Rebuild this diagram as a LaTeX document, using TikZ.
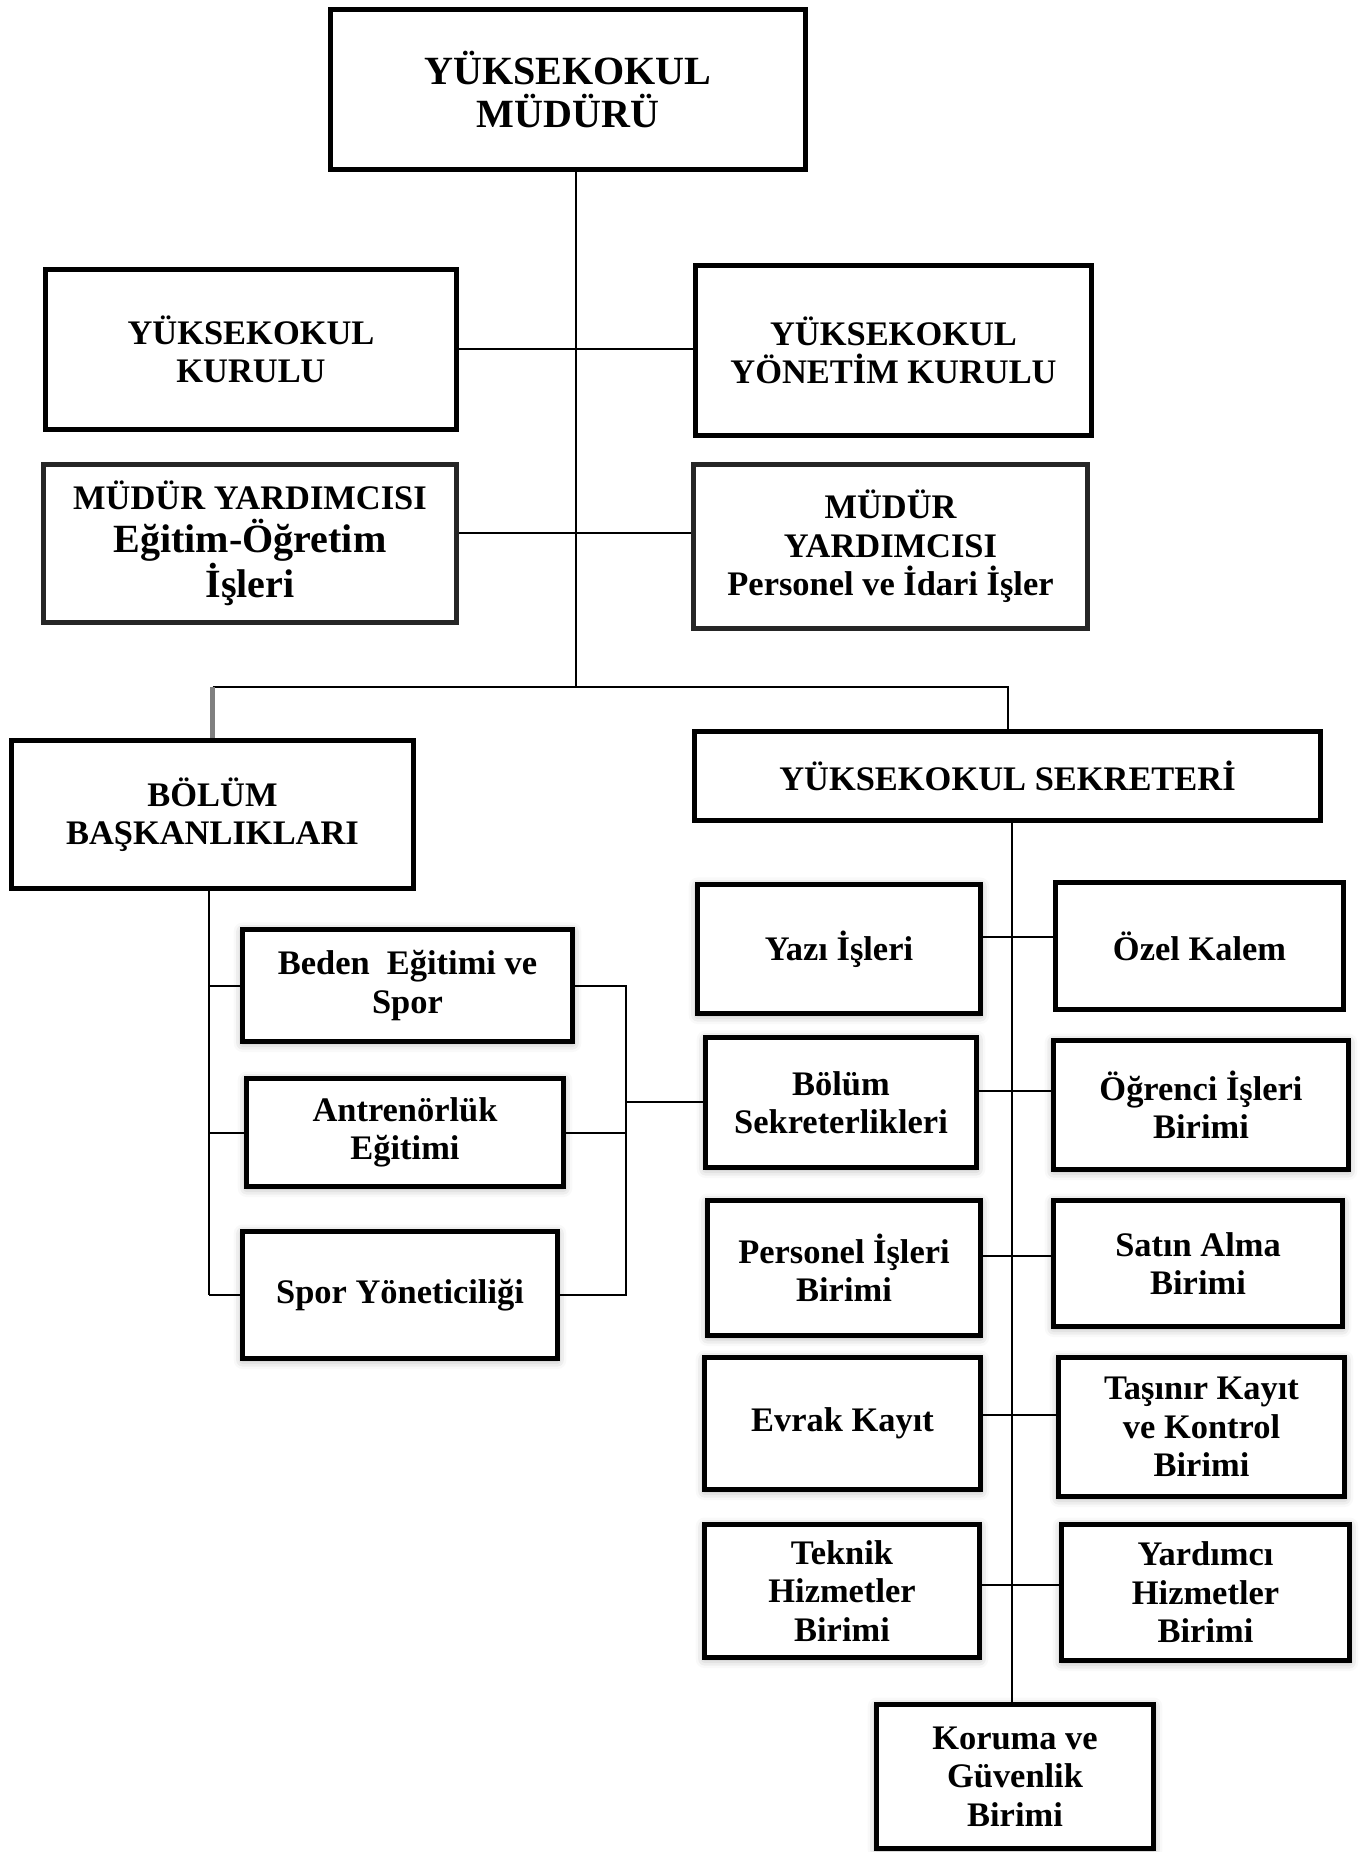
\documentclass[tikz,border=0pt]{standalone}
\usepackage{fontspec}
\setmainfont{Liberation Serif}
\usetikzlibrary{shadows.blur}

\begin{document}
\begin{tikzpicture}[x=0.02cm,y=-0.02cm,
	kutu/.style={draw,fill=white,line width=2.85pt,align=center,inner sep=2pt,
		font=\bfseries\fontsize{19.6}{21.9}\selectfont},
	buyuk/.style={font=\bfseries\fontsize{22.8}{24.5}\selectfont},
	boyut/.style 2 args={minimum width=#1*0.02cm,minimum height=#2*0.02cm},
	golge/.style={blur shadow={shadow xshift=0pt,shadow yshift=-1pt,
		shadow blur radius=5pt,shadow opacity=35}},
	hat/.style={line width=1.14pt}]
	\useasboundingbox (0,0) rectangle (1359,1852);
	% ust kademe
	\node[kutu,buyuk,boyut={475}{160}] (mudur) at (568,89.5) {YÜKSEKOKUL\\MÜDÜRÜ};
	\node[kutu,boyut={411}{160}] (kurul) at (251,349.5) {YÜKSEKOKUL\\KURULU};
	\node[kutu,boyut={396}{170}] (yonetim) at (893.5,350.5) {YÜKSEKOKUL\\YÖNETİM KURULU};
	\node[kutu,buyuk,draw=black!85,boyut={413}{158}] (myegitim) at (250,543.5)
		{{\fontsize{19.6}{24.5}\selectfont MÜDÜR YARDIMCISI}\\Eğitim-Öğretim\\İşleri};
	\node[kutu,draw=black!85,boyut={394}{164}] (mypersonel) at (890.5,546.5)
		{MÜDÜR\\YARDIMCISI\\Personel ve İdari İşler};
	\node[kutu,boyut={402}{148}] (bolum) at (212.5,814.5) {BÖLÜM\\BAŞKANLIKLARI};
	\node[kutu,boyut={626}{89}] (sekreter) at (1007.5,776) {YÜKSEKOKUL SEKRETERİ};
	% bolumler
	\node[kutu,golge,boyut={330}{112}] (beden) at (407.5,985.5) {Beden~~Eğitimi ve\\Spor};
	\node[kutu,golge,boyut={317}{108}] (antrenor) at (405,1132.5) {Antrenörlük\\Eğitimi};
	\node[kutu,golge,boyut={315}{127}] (sporyon) at (400,1295) {Spor Yöneticiliği};
	% sekreterlik birimleri
	\node[kutu,golge,boyut={283}{129}] (yazi) at (839,949) {Yazı İşleri};
	\node[kutu,boyut={288}{127}] (ozel) at (1199.5,946) {Özel Kalem};
	\node[kutu,golge,boyut={271}{130}] (bolsek) at (841,1102.5) {Bölüm\\Sekreterlikleri};
	\node[kutu,golge,boyut={295}{129}] (ogrenci) at (1201,1105) {Öğrenci İşleri\\Birimi};
	\node[kutu,golge,boyut={273}{135}] (persis) at (844,1268) {Personel İşleri\\Birimi};
	\node[kutu,golge,boyut={289}{126}] (satin) at (1198,1263.5) {Satın Alma\\Birimi};
	\node[kutu,golge,boyut={276}{132}] (evrak) at (842.5,1423.5) {Evrak Kayıt};
	\node[kutu,golge,boyut={286}{139}] (tasinir) at (1201.5,1427) {Taşınır Kayıt\\ve Kontrol\\Birimi};
	\node[kutu,golge,boyut={275}{133}] (teknik) at (842,1591) {Teknik\\Hizmetler\\Birimi};
	\node[kutu,golge,boyut={288}{136}] (yardimci) at (1205.5,1592.5) {Yardımcı\\Hizmetler\\Birimi};
	\node[kutu,golge,boyut={277}{144}] (koruma) at (1015,1776.5) {Koruma ve\\Güvenlik\\Birimi};
	% baglanti noktalari
	\path (576,349) coordinate (j1)
		(576,533) coordinate (j2)
		(576,687) coordinate (bus)
		(209,891) coordinate (lsp)
		(626,1102) coordinate (rb)
		(1012,823) coordinate (rsp);
	\draw[hat] (mudur.south -| bus) -- (bus);
	\draw[hat] (kurul.east |- j1) -- (yonetim.west |- j1);
	\draw[hat] (myegitim.east |- j2) -- (mypersonel.west |- j2);
	\draw[hat] (bolum.north |- bus) -- (sekreter.north |- bus) -- (sekreter.north);
	\draw[gray,line width=2.3pt] (bolum.north |- bus) -- (bolum.north);
	% bolum baskanliklari
	\draw[hat] (bolum.south -| lsp) -- (lsp |- sporyon.west);
	\foreach \n in {beden,antrenor,sporyon}
		\draw[hat] (lsp |- \n.west) -- (\n.west);
	\draw[hat] (beden.east) -- (beden.east -| rb) -- (sporyon.east -| rb) -- (sporyon.east);
	\draw[hat] (antrenor.east) -- (antrenor.east -| rb);
	\draw[hat] (rb) -- (bolsek.west |- rb);
	% sekreterlik
	\draw[hat] (sekreter.south -| rsp) -- (koruma.north -| rsp);
	\foreach \l/\r/\y in {yazi/ozel/937,bolsek/ogrenci/1091,persis/satin/1256,
		evrak/tasinir/1415,teknik/yardimci/1585}
		\draw[hat] (\l.east |- 0,\y) -- (\r.west |- 0,\y);
\end{tikzpicture}
\end{document}
